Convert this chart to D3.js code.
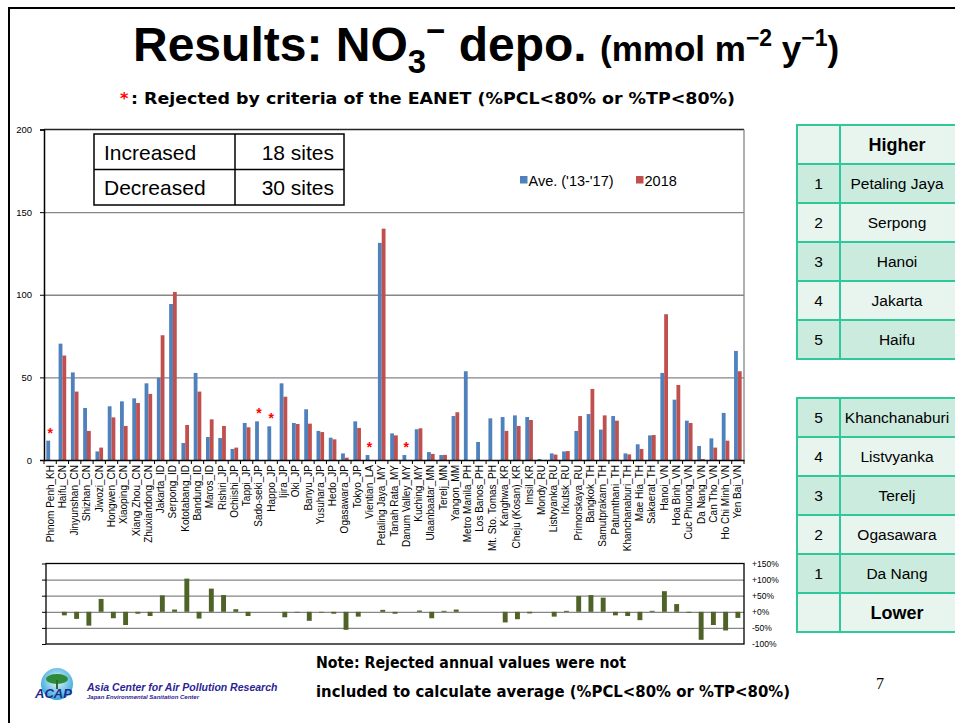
<!DOCTYPE html>
<html>
<head>
<meta charset="utf-8">
<script src="https://cdn.jsdelivr.net/npm/d3@7"></script>
<style>
  html, body { margin: 0; padding: 0; background: #fff; }
  svg { display: block; }
</style>
</head>
<body>
<svg id="chart" width="955" height="723"></svg>
<script>
// ---------------- DATA ----------------
const sites = ["Phnom Penh_KH","Haifu_CN","Jinyunshan_CN","Shizhan_CN","Jiwozi_CN","Hongwen_CN","Xiaoping_CN","Xiang Zhou_CN","Zhuxiandong_CN",
  "Jakarta_ID","Serpong_ID","Kototabang_ID","Bandung_ID","Maros_ID","Rishiri_JP","Ochiishi_JP","Tappi_JP","Sado-seki_JP","Happo_JP",
  "Ijira_JP","Oki_JP","Banyu_JP","Yusuhara_JP","Hedo_JP","Ogasawara_JP","Tokyo_JP","Vientian_LA","Petaling Jaya_MY","Tanah Rata_MY",
  "Danum Valley_MY","Kuching_MY","Ulaanbaatar_MN","Terelj_MN","Yangon_MM","Metro Manila_PH","Los Banos_PH","Mt. Sto. Tomas_PH",
  "Kanghwa_KR","Cheju (Kosan)_KR","Imsil_KR","Mondy_RU","Listvyanka_RU","Irkutsk_RU","Primorskaya_RU","Bangkok_TH","Samutprakarn_TH",
  "Patumthani_TH","Khanchanaburi_TH","Mae Hia_TH","Sakaerat_TH","Hanoi_VN","Hoa Binh_VN","Cuc Phuong_VN","Da Nang_VN","Can Tho_VN",
  "Ho Chi Minh_VN","Yen Bai_VN"];
const aveValues = [11.7,70.4,53.0,31.5,5.2,32.5,35.5,37.3,46.4,
  49.8,94.4,10.3,52.7,13.9,13.3,6.7,22.4,23.4,20.4,
  46.4,22.4,30.7,17.6,13.5,4.0,23.4,3.0,131.4,16.1,
  3.0,18.6,4.8,3.0,26.6,53.7,10.9,25.2,
  26.0,27.0,26.0,0.6,4.0,5.2,17.6,27.8,18.4,
  26.6,4.0,9.5,14.9,52.7,36.5,23.8,8.5,13.1,
  28.5,66.0];
const values2018 = [null,63.2,41.4,17.6,7.5,25.8,20.6,34.5,40.0,
  75.5,101.7,21.2,41.4,24.6,20.6,7.5,19.8,null,null,
  38.3,21.8,22.0,16.9,12.5,1.4,19.4,null,140.0,14.9,
  null,19.2,3.7,3.1,28.9,null,null,null,
  17.6,20.6,24.2,null,3.3,5.4,26.6,43.0,27.0,
  23.8,3.4,6.7,15.1,88.2,45.4,22.4,0.6,7.5,
  11.7,53.7];
const changePct = [null,-11,-22,-43,40,-20,-41,-6,-13,
  51,7,103,-21,72,52,8,-13,null,null,
  -17,-2,-28,-2,-6,-56,-15,null,6,-6,
  null,4,-20,3,7,null,null,null,
  -33,-23,-5,null,-15,3,49,52,44,
  -11,-13,-26,3,64,24,-3,-87,-41,
  -58,-19];
const rejectedSites = ["Phnom Penh_KH","Sado-seki_JP","Happo_JP","Vientian_LA","Danum Valley_MY"];
const yTicks = [0,50,100,150,200];
const changeTicks = [-100,-50,0,50,100,150];
const seriesNames = ["Ave. ('13-'17)","2018"];
const countRows = [["Increased","18 sites"],["Decreased","30 sites"]];
const higherRanks = [1,2,3,4,5];
const higherSites = ["Petaling Jaya","Serpong","Hanoi","Jakarta","Haifu"];
const lowerRanks = [5,4,3,2,1];
const lowerSites = ["Khanchanaburi","Listvyanka","Terelj","Ogasawara","Da Nang"];

// ---------------- STYLE ----------------
const BLUE = "#4F81BD", RED = "#C0504D", OLIVE = "#4F6228";
const GRID = "#868686";
const svg = d3.select("#chart");
const sans = "Liberation Sans, Arial, sans-serif";
const wide = "DejaVu Sans, Verdana, sans-serif";

// slide frame
svg.append("path").attr("d","M9,730 V8 H960").attr("fill","none").attr("stroke","#000").attr("stroke-width",2);

// ---------------- TITLE ----------------
const title = svg.append("text").attr("x",133).attr("y",61).attr("font-family",sans).attr("font-weight","bold").attr("fill","#000");
title.append("tspan").attr("font-size",48).text("Results: NO");
title.append("tspan").attr("font-size",33).attr("dy",12).text("3");
title.append("tspan").attr("font-size",33).attr("dy",-31).text("\u2212");
title.append("tspan").attr("font-size",48).attr("dy",19).text(" depo. ");
title.append("tspan").attr("font-size",35).text("(mmol m");
title.append("tspan").attr("font-size",23).attr("dy",-15).text("\u22122");
title.append("tspan").attr("font-size",35).attr("dy",15).text(" y");
title.append("tspan").attr("font-size",23).attr("dy",-15).text("\u22121");
title.append("tspan").attr("font-size",35).attr("dy",15).text(")");

const sub = svg.append("text").attr("y",104).attr("font-family",wide).attr("font-weight","bold").attr("font-size",16);
sub.append("tspan").attr("x",120).attr("fill","#FF0000").text("*");
svg.append("text").attr("x",131).attr("y",104).attr("font-family",wide).attr("font-weight","bold").attr("font-size",16)
  .attr("textLength",604).attr("lengthAdjust","spacingAndGlyphs")
  .text(": Rejected by criteria of the EANET (%PCL<80% or %TP<80%)");

// ---------------- MAIN CHART ----------------
const L = 44, R = 744, T = 129.5, B = 460;
const x = d3.scaleBand().domain(sites).range([L,R]).paddingInner(0.38).paddingOuter(0.19);
const xs = d3.scaleBand().domain(seriesNames).range([0,x.bandwidth()]);
const y = d3.scaleLinear().domain([0,200]).range([B,T]);

// gridlines
svg.append("g").attr("transform",`translate(${L},0)`)
  .call(d3.axisLeft(y).tickValues(yTicks.filter(t=>t>0 && t<200)).tickSize(-(R-L)).tickFormat(""))
  .call(g=>g.select(".domain").remove())
  .call(g=>g.selectAll("line").attr("stroke",GRID).attr("stroke-width",1.3));
// plot border (top/right)
svg.append("line").attr("x1",L).attr("x2",R).attr("y1",T).attr("y2",T).attr("stroke","#222").attr("stroke-width",1.3);
svg.append("line").attr("x1",R).attr("x2",R).attr("y1",T).attr("y2",B).attr("stroke",GRID).attr("stroke-width",1.3);

// y axis
svg.append("g").attr("transform",`translate(${L},0)`)
  .call(d3.axisLeft(y).tickValues(yTicks).tickSize(4).tickPadding(8))
  .call(g=>g.select(".domain").attr("stroke","#000").attr("stroke-width",1.5))
  .call(g=>g.selectAll("line").attr("stroke","#000"))
  .call(g=>g.selectAll("text").attr("font-family",sans).attr("font-size",9.5).attr("fill","#000"));

// bars
const bars = svg.append("g");
sites.forEach((s,i)=>{
  const vals = [aveValues[i], values2018[i]];
  vals.forEach((v,j)=>{
    if (v===null) return;
    bars.append("rect").attr("x",x(s)+xs(seriesNames[j])).attr("width",xs.bandwidth())
      .attr("y",y(v)).attr("height",y(0)-y(v)).attr("fill",j===0?BLUE:RED);
  });
});

// rejected stars
svg.append("g").selectAll("text").data(rejectedSites).join("text")
  .attr("x",d=>x(d)+x.bandwidth()/2).attr("y",d=>y(aveValues[sites.indexOf(d)])-3)
  .attr("text-anchor","middle").attr("font-family",sans).attr("font-size",14).attr("font-weight","bold")
  .attr("fill","#FF0000").text("*");

// x axis
const xAxisG = svg.append("g").attr("transform",`translate(0,${B})`)
  .call(d3.axisBottom(x).tickSize(0).tickPadding(0));
xAxisG.select(".domain").attr("stroke","#000").attr("stroke-width",1.5);
xAxisG.selectAll("text").attr("transform","rotate(-90)").attr("x",-5).attr("y",0).attr("dy","0.35em")
  .attr("text-anchor","end").attr("font-family",sans).attr("font-size",10).attr("fill","#000");
const step = x.step();
const bounds = sites.map(s=>x(s)-step*x.paddingInner()/2).concat([R]);
xAxisG.selectAll("line.bt").data(bounds).join("line").attr("class","bt")
  .attr("x1",d=>d).attr("x2",d=>d).attr("y1",0).attr("y2",4).attr("stroke","#000");

// inset count table
const ct = svg.append("g");
ct.append("rect").attr("x",94).attr("y",134).attr("width",250).attr("height",71).attr("fill","#fff").attr("stroke","#000").attr("stroke-width",1.5);
ct.append("line").attr("x1",94).attr("x2",344).attr("y1",169.5).attr("y2",169.5).attr("stroke","#000").attr("stroke-width",1.5);
ct.append("line").attr("x1",235).attr("x2",235).attr("y1",134).attr("y2",205).attr("stroke","#000").attr("stroke-width",1.5);
countRows.forEach((r,i)=>{
  ct.append("text").attr("x",104).attr("y",160+i*35).attr("font-family",sans).attr("font-size",21).text(r[0]);
  ct.append("text").attr("x",334).attr("y",160+i*35).attr("text-anchor","end").attr("font-family",sans).attr("font-size",21).text(r[1]);
});

// legend
const lg = svg.append("g");
[[520,BLUE,seriesNames[0]],[636,RED,seriesNames[1]]].forEach(([lx,c,t])=>{
  lg.append("rect").attr("x",lx).attr("y",176).attr("width",7.5).attr("height",7.5).attr("fill",c);
  lg.append("text").attr("x",lx+8.5).attr("y",185.5).attr("font-family",sans).attr("font-size",14.5).text(t);
});

// ---------------- CHANGE CHART ----------------
const T2 = 563.5, B2 = 644;
const y2 = d3.scaleLinear().domain([-100,150]).range([B2,T2]);
const x2 = d3.scaleBand().domain(sites).range([L+2,R]).paddingInner(0.6).paddingOuter(0.3);
svg.append("g").attr("transform",`translate(${L+2},0)`)
  .call(d3.axisLeft(y2).tickValues([-50,0,50,100]).tickSize(-(R-L-2)).tickFormat(""))
  .call(g=>g.select(".domain").remove())
  .call(g=>g.selectAll("line").attr("stroke",GRID).attr("stroke-width",1.3));
svg.append("rect").attr("x",L+2).attr("y",T2).attr("width",R-L-2).attr("height",B2-T2).attr("fill","none").attr("stroke","#000").attr("stroke-width",1.3);
svg.append("g").attr("transform",`translate(${L+2},0)`)
  .call(d3.axisLeft(y2).tickValues(changeTicks).tickSize(4).tickFormat(""))
  .call(g=>g.select(".domain").remove())
  .call(g=>g.selectAll("line").attr("stroke","#000"));
svg.append("g").attr("transform",`translate(${R},0)`)
  .call(d3.axisRight(y2).tickValues(changeTicks).tickSize(0).tickPadding(8)
        .tickFormat(d=>(d>=0?"+":"")+d+"%"))
  .call(g=>g.select(".domain").remove())
  .call(g=>g.selectAll("text").attr("font-family",sans).attr("font-size",8.5).attr("fill","#000"));
svg.append("g").selectAll("rect").data(sites.map((s,i)=>({s,v:changePct[i]})).filter(d=>d.v!==null)).join("rect")
  .attr("x",d=>x2(d.s)).attr("width",x2.bandwidth())
  .attr("y",d=>y2(Math.max(0,d.v))).attr("height",d=>Math.abs(y2(d.v)-y2(0)))
  .attr("fill",OLIVE);

// ---------------- RANK TABLE ----------------
const TX = 797, TC = 840, TR = 956, rowH = 39, T0 = 125;
const tg = svg.append("g");
const LIGHT = "#E8F5EF", DARK = "#CCEBDF", TEAL = "#2EC89A";
const rows = [{n:"",t:"Higher",b:true,f:LIGHT}]
  .concat(higherSites.map((s,i)=>({n:higherRanks[i],t:s,f:i%2===0?DARK:LIGHT})))
  .concat([{blank:true}])
  .concat(lowerSites.map((s,i)=>({n:lowerRanks[i],t:s,f:i%2===0?DARK:LIGHT})))
  .concat([{n:"",t:"Lower",b:true,f:LIGHT}]);
rows.forEach((r,i)=>{
  const ry = T0 + i*rowH;
  if (r.blank) {
    tg.append("line").attr("x1",TX).attr("x2",TR).attr("y1",ry).attr("y2",ry).attr("stroke",TEAL).attr("stroke-width",2);
    return;
  }
  tg.append("rect").attr("x",TX).attr("y",ry).attr("width",TR-TX).attr("height",rowH).attr("fill",r.f).attr("stroke",TEAL).attr("stroke-width",2);
  tg.append("line").attr("x1",TC).attr("x2",TC).attr("y1",ry).attr("y2",ry+rowH).attr("stroke",TEAL).attr("stroke-width",2);
  tg.append("text").attr("x",(TX+TC)/2).attr("y",ry+rowH/2+5.5).attr("text-anchor","middle")
    .attr("font-family",sans).attr("font-size",15.5).text(r.n);
  tg.append("text").attr("x",897).attr("y",ry+rowH/2+(r.b?6.5:5.5)).attr("text-anchor","middle")
    .attr("font-family",sans).attr("font-size",r.b?18:15.5).attr("font-weight",r.b?"bold":"normal").text(r.t);
});

// ---------------- FOOTER ----------------
svg.append("text").attr("x",316).attr("y",668).attr("font-family",wide).attr("font-weight","bold").attr("font-size",15)
  .attr("textLength",310).attr("lengthAdjust","spacingAndGlyphs").text("Note: Rejected annual values were not");
svg.append("text").attr("x",316).attr("y",697).attr("font-family",wide).attr("font-weight","bold").attr("font-size",15)
  .attr("textLength",474).attr("lengthAdjust","spacingAndGlyphs").text("included to calculate average (%PCL<80% or %TP<80%)");
svg.append("text").attr("x",876).attr("y",689).attr("font-family","Liberation Serif, serif").attr("font-size",16).text("7");

// ACAP logo
const logo = svg.append("g");
const grad = svg.append("defs").append("radialGradient").attr("id","lg").attr("cx","50%").attr("cy","40%").attr("r","60%");
grad.append("stop").attr("offset","0%").attr("stop-color","#E8F6FC");
grad.append("stop").attr("offset","100%").attr("stop-color","#2FA6D9");
logo.append("circle").attr("cx",57).attr("cy",684).attr("r",16).attr("fill","url(#lg)");
logo.append("ellipse").attr("cx",57).attr("cy",679).attr("rx",11).attr("ry",5).attr("fill","#2E8B3A");
logo.append("rect").attr("x",56).attr("y",680).attr("width",2).attr("height",9).attr("fill","#2E6B2A");
logo.append("text").attr("x",35).attr("y",698).attr("font-family",sans).attr("font-weight","bold").attr("font-style","italic")
  .attr("font-size",13).attr("fill","#1E2C8C").text("ACAP");
logo.append("text").attr("x",87).attr("y",691).attr("font-family",sans).attr("font-weight","bold").attr("font-style","italic")
  .attr("font-size",10.5).attr("fill","#2B2394").text("Asia Center for Air Pollution Research");
logo.append("text").attr("x",87).attr("y",699).attr("font-family",sans).attr("font-weight","bold").attr("font-style","italic")
  .attr("font-size",6).attr("fill","#2B2394").text("Japan Environmental Sanitation Center");
</script>
</body>
</html>
